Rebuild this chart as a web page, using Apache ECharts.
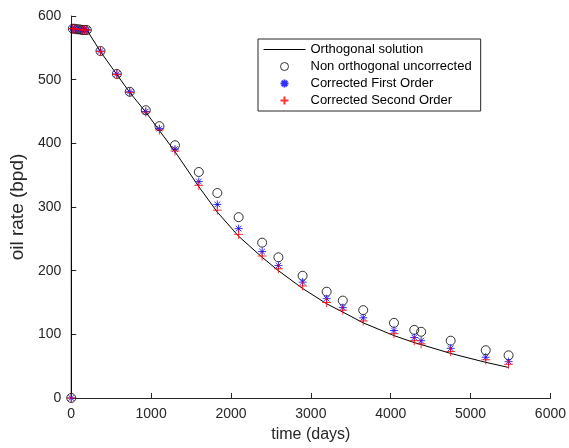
<!DOCTYPE html>
<html>
<head>
<meta charset="utf-8">
<script src="https://cdn.jsdelivr.net/npm/echarts@6/dist/echarts.min.js"></script>
<style>html,body{margin:0;padding:0;background:#fff;}#c{width:569px;height:448px;}</style>
</head>
<body>
<div id="c"></div>
<script>
// time (days) of the marker samples
const days = [0, 20, 45, 75, 105, 135, 165, 195,
  366, 571, 732, 933, 1104, 1299, 1597, 1829, 2096, 2390, 2594, 2897,
  3198, 3400, 3656, 4041, 4295, 4381, 4751, 5190, 5476];
// Non orthogonal uncorrected
const nonOrtho = [0, 580, 580, 579, 579, 578, 578, 578,
  545, 509, 481, 452, 427, 397, 355, 322, 284, 244, 221, 192,
  167, 153, 138, 118, 107, 104, 90, 75, 67];
// Corrected First Order
const corr1 = [0, 580, 580, 579, 579, 578, 578, 578,
  545, 509, 481, 450, 423, 391, 340, 304, 266, 230, 208, 182,
  156, 142, 126, 106, 95, 90, 78, 64, 57];
// Corrected Second Order
const corr2 = [0, 580, 580, 579, 579, 578, 578, 578,
  544, 508, 480, 449, 421, 388, 334, 295, 257, 223, 203, 176,
  150, 138, 121, 101, 90, 85, 73, 60, 53];
// Orthogonal solution (line)
const lineDays = [0, 1, 20, 45, 75, 105, 135, 165, 195, 210,
  366, 571, 732, 933, 1104, 1299, 1597, 1829, 2096, 2390, 2594, 2897,
  3198, 3400, 3656, 4041, 4295, 4381, 4751, 5190, 5476];
const ortho = [0, 580, 580, 580, 579, 579, 578, 578, 578, 576,
  544, 508, 480, 449, 420, 387, 332, 292, 254, 221, 200, 172,
  148, 135, 118, 98, 87, 84, 70, 56, 48];
const xTicks = [0, 1000, 2000, 3000, 4000, 5000, 6000];
const yTicks = [0, 100, 200, 300, 400, 500, 600];
const legendNames = ['Orthogonal solution', 'Non orthogonal uncorrected', 'Corrected First Order', 'Corrected Second Order'];

const pair = (xs, ys) => xs.map((x, i) => [x, ys[i]]);
const AX = '#262626';
const FONT = 'Liberation Sans, Arial, Helvetica, sans-serif';
const starPath = 'path://M0 5 L10 5 M5 0 L5 10 M1.5 1.5 L8.5 8.5 M8.5 1.5 L1.5 8.5';
const plusPath = 'path://M0 5 L10 5 M5 0 L5 10';

const chart = echarts.init(document.getElementById('c'), null, {renderer: 'canvas'});
chart.setOption({
  animation: false,
  backgroundColor: '#fff',
  textStyle: {fontFamily: FONT},
  grid: {left: 69.5, top: 16, width: 486.5, height: 384.5, containLabel: false},
  xAxis: {
    type: 'value', min: xTicks[0], max: xTicks[xTicks.length - 1], interval: 1000,
    name: 'time (days)', nameLocation: 'middle', nameGap: 29,
    nameTextStyle: {color: AX, fontSize: 16, fontFamily: FONT},
    axisLine: {lineStyle: {color: AX, width: 1}},
    axisTick: {inside: true, length: 5, lineStyle: {color: AX}},
    axisLabel: {color: AX, fontSize: 14, margin: 9, fontFamily: FONT, formatter: v => String(v)},
    splitLine: {show: false}
  },
  yAxis: {
    type: 'value', min: yTicks[0], max: yTicks[yTicks.length - 1], interval: 100,
    name: 'oil rate (bpd)', nameLocation: 'middle', nameGap: 39,
    nameTextStyle: {color: AX, fontSize: 19, fontFamily: FONT},
    axisLine: {lineStyle: {color: AX, width: 1}},
    axisTick: {inside: true, length: 5, lineStyle: {color: AX}},
    axisLabel: {color: AX, fontSize: 14, margin: 10, fontFamily: FONT, formatter: v => String(v)},
    splitLine: {show: false}
  },
  legend: {
    orient: 'vertical', left: 258, top: 39,
    padding: [4, 9, 4, 5],
    itemWidth: 42, itemHeight: 8, itemGap: 4,
    borderColor: AX, borderWidth: 1, borderRadius: 0,
    backgroundColor: '#fff',
    textStyle: {color: '#000', fontSize: 13, fontFamily: FONT},
    data: [
      {name: legendNames[0], itemStyle: {opacity: 0}, lineStyle: {width: 1, color: '#000'}},
      {name: legendNames[1], itemStyle: {color: 'none', borderColor: '#000', borderWidth: 1}},
      legendNames[2], legendNames[3]
    ]
  },
  series: [
    {
      name: legendNames[0], type: 'line', data: pair(lineDays, ortho),
      symbol: 'none', lineStyle: {color: '#000', width: 1}, itemStyle: {color: '#000'}, z: 2
    },
    {
      name: legendNames[1], type: 'scatter', data: pair(days, nonOrtho),
      symbol: 'circle', symbolSize: 9, clip: false,
      itemStyle: {color: 'none', borderColor: '#000', borderWidth: 1}, z: 3
    },
    {
      name: legendNames[2], type: 'scatter', data: pair(days, corr1),
      symbol: starPath, symbolSize: 8, clip: false,
      itemStyle: {color: 'none', borderColor: '#0000ff', borderWidth: 1}, z: 4
    },
    {
      name: legendNames[3], type: 'scatter', data: pair(days, corr2),
      symbol: plusPath, symbolSize: 9, clip: false,
      itemStyle: {color: 'none', borderColor: '#ff0000', borderWidth: 1}, z: 5
    }
  ]
});
</script>
</body>
</html>
